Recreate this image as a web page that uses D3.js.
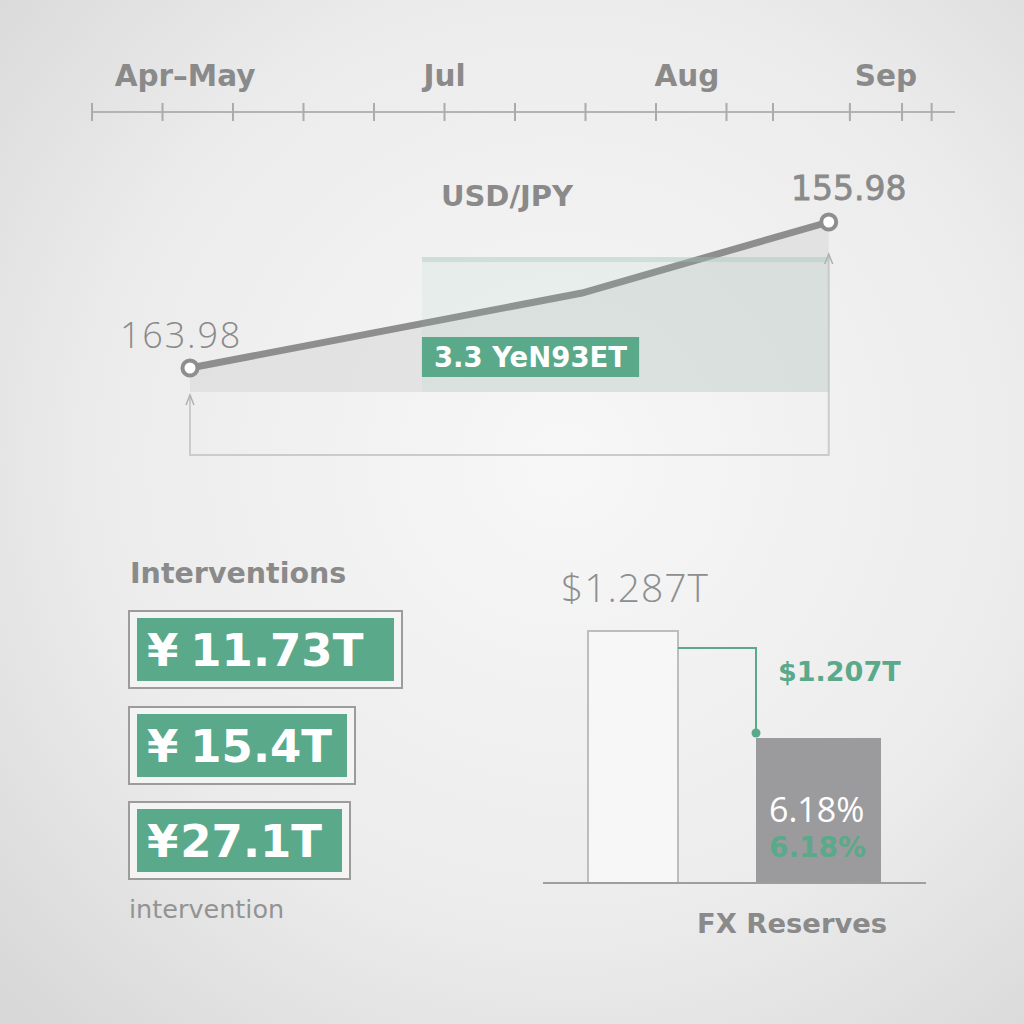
<!DOCTYPE html>
<html><head><meta charset="utf-8">
<script src="https://cdn.jsdelivr.net/npm/d3@7"></script>
<style>html,body{margin:0;padding:0;background:#eee;overflow:hidden}</style>
</head><body><svg id="c" width="1024" height="1024"></svg>
<script>
// ---- data ----
const timelineLabels = ["Apr–May", "Jul", "Aug", "Sep"];
const timelineLabelDays = [13.2, 50, 84.4, 112.6];
const timelineTicks = [0, 10, 20, 30, 40, 50, 60, 70, 80, 90, 96.6, 107.5, 114.9, 119.1];
const rateDays = [13.9, 69.5, 104.5];
const rateValues = [163.98, 159.87, 155.98];
const rateLabels = ["163.98", "155.98"];
const rateTitle = "USD/JPY";
const bandDays = [46.8, 104.5];
const bandTopValue = 157.9;
const bandLabel = "3.3 YeN93ET";
const interventionTitle = "Interventions";
const interventionCurrency = ["¥", "¥", "¥"];
const interventionAmounts = ["11.73T", "15.4T", "27.1T"];
const interventionNote = "intervention";
const reserveCats = ["before", "after"];
const reserveValues = [1.287, 1.207];
const reserveLabels = ["$1.287T", "$1.207T"];
const reserveChange = ["6.18%", "6.18%"];
const reserveTitle = "FX Reserves";

// ---- styles ----
const GREEN = "#5aa98a", GRAY_T = "#8a8a8a";
const BOLD = "'DejaVu Sans', sans-serif", LIGHT = "'Open Sans', sans-serif";

const svg = d3.select("#c");
const defs = svg.append("defs");
const bg = defs.append("radialGradient").attr("id", "bg").attr("cx", "55%").attr("cy", "45%").attr("r", "75%");
bg.append("stop").attr("offset", "0%").attr("stop-color", "#f7f7f7");
bg.append("stop").attr("offset", "60%").attr("stop-color", "#ececec");
bg.append("stop").attr("offset", "100%").attr("stop-color", "#d8d8d8");
svg.append("rect").attr("width", 1024).attr("height", 1024).attr("fill", "url(#bg)");

// ---- timeline ----
const x = d3.scaleLinear().domain([0, 120]).range([92, 938]);
const axisY = 112;
const tl = svg.append("g");
tl.append("line").attr("x1", x(0)).attr("x2", x(122.4)).attr("y1", axisY).attr("y2", axisY)
  .attr("stroke", "#b3b3b3").attr("stroke-width", 2);
tl.selectAll("line.t").data(timelineTicks).join("line").attr("class", "t")
  .attr("x1", d => x(d)).attr("x2", d => x(d)).attr("y1", axisY - 9).attr("y2", axisY + 9)
  .attr("stroke", "#ababab").attr("stroke-width", 2);
tl.selectAll("text").data(timelineLabels).join("text")
  .attr("x", (d, i) => x(timelineLabelDays[i])).attr("y", 86).attr("text-anchor", "middle")
  .attr("font-family", BOLD).attr("font-weight", 700).attr("font-size", 29.5).attr("fill", GRAY_T)
  .text(d => d);

// ---- USD/JPY line ----
const y = d3.scaleLinear().domain([163.98, 155.98]).range([368, 222]);
const areaBottom = 392, bracketBottom = 455;
const pts = rateDays.map((d, i) => [d, rateValues[i]]);
const lc = svg.append("g");
lc.append("path").datum(pts)
  .attr("d", d3.area().x(d => x(d[0])).y0(areaBottom).y1(d => y(d[1])))
  .attr("fill", "#d9d9d9").attr("fill-opacity", 0.6);
// bracket
const bx0 = x(rateDays[0]), bx1 = x(rateDays[rateDays.length - 1]);
lc.append("path").attr("d", `M${bx0},${areaBottom + 4} L${bx0},${bracketBottom} L${bx1},${bracketBottom} L${bx1},${y(bandTopValue) - 2}`)
  .attr("fill", "none").attr("stroke", "#cbcbcb").attr("stroke-width", 2);
[[bx0, areaBottom + 3], [bx1, y(bandTopValue) - 3]].forEach(([ax, ay]) => {
  lc.append("path").attr("d", `M${ax - 4},${ay + 10} L${ax},${ay} L${ax + 4},${ay + 10}`)
    .attr("fill", "none").attr("stroke", "#b0b0b0").attr("stroke-width", 1.5);
});
// line
lc.append("path").datum(pts)
  .attr("d", d3.line().x(d => x(d[0])).y(d => y(d[1])))
  .attr("fill", "none").attr("stroke", "#8e8e8e").attr("stroke-width", 7).attr("stroke-linecap", "round");
// green band overlay
const bandX0 = x(bandDays[0]), bandX1 = x(bandDays[1]);
lc.append("rect").attr("x", bandX0).attr("y", y(bandTopValue)).attr("width", bandX1 - bandX0)
  .attr("height", areaBottom - y(bandTopValue)).attr("fill", "#8cc8b0").attr("fill-opacity", 0.11);
lc.append("rect").attr("x", bandX0).attr("y", y(bandTopValue)).attr("width", bandX1 - bandX0)
  .attr("height", 5).attr("fill", "#a3c2b7").attr("fill-opacity", 0.35);
// endpoint circles
lc.selectAll("circle").data([pts[0], pts[pts.length - 1]]).join("circle")
  .attr("cx", d => x(d[0])).attr("cy", d => y(d[1])).attr("r", 7.5)
  .attr("fill", "#fff").attr("stroke", "#8e8e8e").attr("stroke-width", 4);
// labels
lc.append("text").attr("x", x(rateDays[0]) - 70).attr("y", 348).attr("font-family", LIGHT).attr("font-weight", 300)
  .attr("font-size", 36).attr("letter-spacing", 1.8).attr("fill", GRAY_T).text(rateLabels[0]);
lc.append("text").attr("x", x(rateDays[2]) + 20).attr("y", 200).attr("text-anchor", "middle").attr("font-family", BOLD)
  .attr("font-weight", 400).attr("font-size", 33).attr("fill", GRAY_T)
  .attr("stroke", GRAY_T).attr("stroke-width", 0.8).text(rateLabels[1]);
lc.append("text").attr("x", 507).attr("y", 206).attr("text-anchor", "middle").attr("font-family", BOLD)
  .attr("font-weight", 700).attr("font-size", 29).attr("fill", GRAY_T).text(rateTitle);
// band label box
const lb = lc.append("g");
const lbt = lb.append("text").attr("x", bandX0 + 12).attr("y", 367).attr("font-family", BOLD)
  .attr("font-weight", 700).attr("font-size", 27.5).attr("fill", "#fff").text(bandLabel);
const lbw = lbt.node().getComputedTextLength();
lb.insert("rect", "text").attr("x", bandX0).attr("y", 337).attr("width", lbw + 24).attr("height", 40).attr("fill", GREEN);

// ---- interventions ----
const ig = svg.append("g");
ig.append("text").attr("x", 130).attr("y", 583).attr("font-family", BOLD).attr("font-weight", 700)
  .attr("font-size", 28.5).attr("fill", GRAY_T).text(interventionTitle);
const boxTops = [611, 707, 802], innerRight = [394, 347, 342], symbolGap = [12, 12, 2];
interventionAmounts.forEach((amt, i) => {
  const g = ig.append("g");
  g.append("rect").attr("x", 129).attr("y", boxTops[i]).attr("width", innerRight[i] + 8 - 129).attr("height", 77)
    .attr("fill", "#f4f4f4").attr("stroke", "#9c9c9c").attr("stroke-width", 2);
  g.append("rect").attr("x", 137).attr("y", boxTops[i] + 7).attr("width", innerRight[i] - 137).attr("height", 63)
    .attr("fill", GREEN);
  const t = g.append("text").attr("x", 147).attr("y", boxTops[i] + 55).attr("font-family", BOLD)
    .attr("font-weight", 700).attr("font-size", 45).attr("fill", "#fff");
  t.append("tspan").text(interventionCurrency[i]);
  t.append("tspan").attr("dx", symbolGap[i]).text(amt);
});
ig.append("text").attr("x", 129).attr("y", 918).attr("font-family", BOLD).attr("font-weight", 400)
  .attr("font-size", 25.5).attr("fill", "#939393").text(interventionNote);

// ---- FX reserves ----
const rg = svg.append("g");
const base = 883;
const ry = d3.scaleLinear().domain([1.0986, 1.287]).range([base, 631]);
const barX = { before: 588, after: 756 }, barW = { before: 90, after: 125 };
rg.selectAll("rect").data(reserveCats).join("rect")
  .attr("x", d => barX[d]).attr("y", (d, i) => ry(reserveValues[i]))
  .attr("width", d => barW[d]).attr("height", (d, i) => base - ry(reserveValues[i]))
  .attr("fill", (d, i) => i === 0 ? "#f7f7f7" : "#9b9b9d")
  .attr("stroke", (d, i) => i === 0 ? "#bdbdbd" : "none").attr("stroke-width", 2);
rg.append("line").attr("x1", 543).attr("x2", 926).attr("y1", base).attr("y2", base)
  .attr("stroke", "#9e9e9e").attr("stroke-width", 2);
const cx0 = barX.before + barW.before, cx1 = barX.after;
rg.append("path").attr("d", `M${cx0},${ry(reserveValues[0]) + 17} L${cx1},${ry(reserveValues[0]) + 17} L${cx1},${ry(reserveValues[1]) - 5}`)
  .attr("fill", "none").attr("stroke", GREEN).attr("stroke-width", 2);
rg.append("circle").attr("cx", cx1).attr("cy", ry(reserveValues[1]) - 5).attr("r", 4.5).attr("fill", GREEN);
rg.append("text").attr("x", 561).attr("y", 602).attr("font-family", LIGHT).attr("font-weight", 300)
  .attr("font-size", 39).attr("letter-spacing", 1).attr("fill", "#8e8e8e").text(reserveLabels[0]);
rg.append("text").attr("x", 778).attr("y", 681).attr("font-family", BOLD).attr("font-weight", 700)
  .attr("font-size", 27).attr("fill", GREEN).text(reserveLabels[1]);
rg.append("text").attr("x", 769).attr("y", 822).attr("font-family", LIGHT).attr("font-weight", 400)
  .attr("font-size", 34).attr("fill", "#fff").text(reserveChange[0]);
rg.append("text").attr("x", 769).attr("y", 857).attr("font-family", BOLD).attr("font-weight", 700)
  .attr("font-size", 28).attr("fill", GREEN).text(reserveChange[1]);
rg.append("text").attr("x", 697).attr("y", 933).attr("font-family", BOLD).attr("font-weight", 700)
  .attr("font-size", 27.4).attr("fill", GRAY_T).text(reserveTitle);
</script></body></html>
